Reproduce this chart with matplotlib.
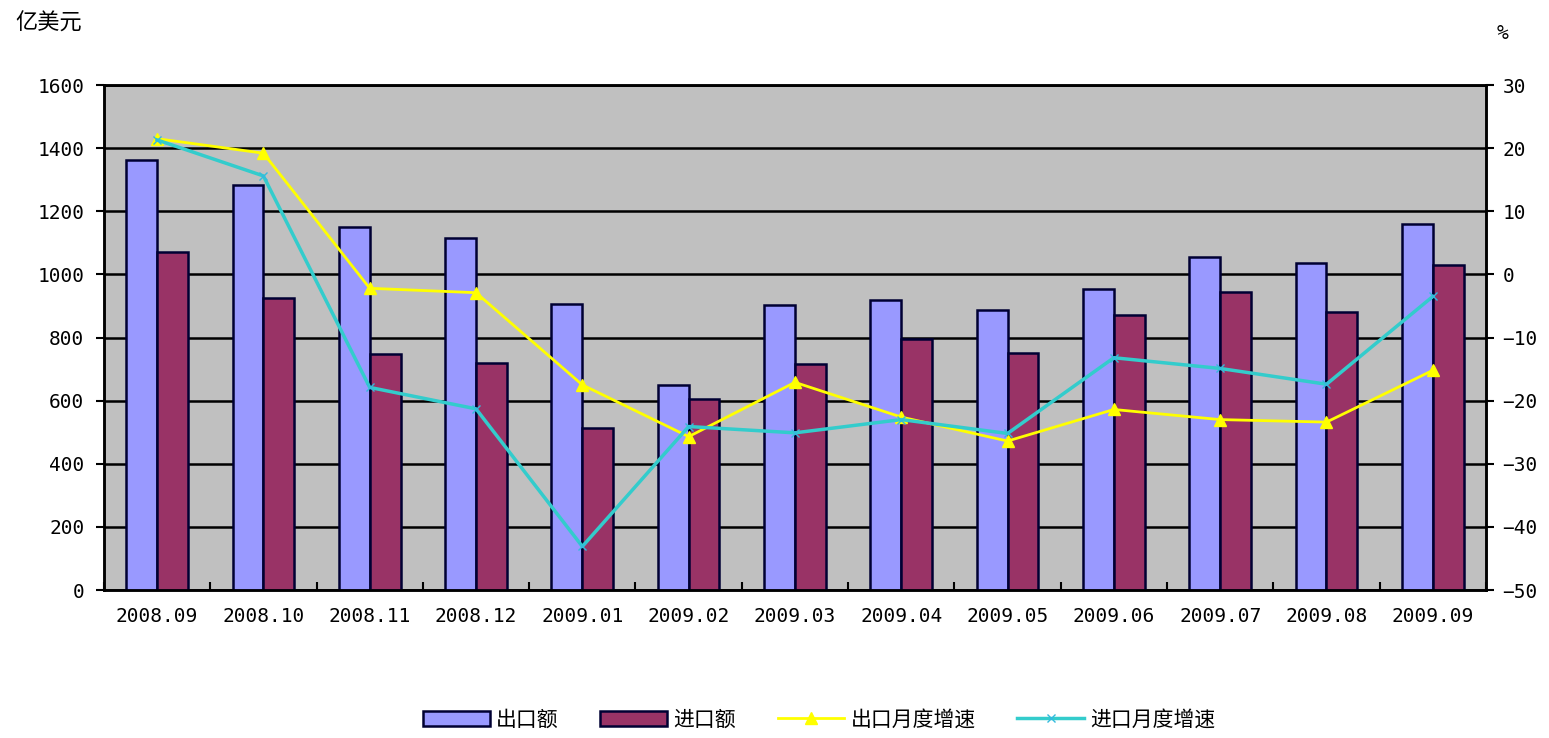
import numpy as np
import matplotlib.pyplot as plt

plt.rcParams['font.family'] = ['Noto Sans CJK SC', 'DejaVu Sans']

months = ["2008.09", "2008.10", "2008.11", "2008.12", "2009.01", "2009.02", "2009.03",
          "2009.04", "2009.05", "2009.06", "2009.07", "2009.08", "2009.09"]
exports = [1364, 1283, 1150, 1116, 905, 649, 903, 919, 888, 954, 1054, 1037, 1160]
imports = [1071, 924, 749, 720, 514, 604, 715, 794, 752, 872, 943, 880, 1030]
export_growth = [21.5, 19.2, -2.2, -2.9, -17.5, -25.7, -17.1, -22.6, -26.4, -21.4, -23.0, -23.4, -15.2]
import_growth = [21.3, 15.6, -17.9, -21.3, -43.1, -24.1, -25.1, -23.0, -25.2, -13.2, -14.9, -17.4, -3.5]

x = np.arange(len(months))
w = 0.29
mono = "DejaVu Sans Mono"

fig = plt.figure(figsize=(15.49, 7.38), dpi=100)
ax = fig.add_axes([0.0671, 0.2005, 0.8922, 0.6843])
ax.set_facecolor("#C0C0C0")

b1 = ax.bar(x - w / 2, exports, w, color="#9999FF", edgecolor="#000033", linewidth=1.8, label="出口额", zorder=3)
b2 = ax.bar(x + w / 2, imports, w, color="#993366", edgecolor="#000033", linewidth=1.8, label="进口额", zorder=3)

ax.set_ylim(0, 1600)
ax.set_xlim(-0.5, len(months) - 0.5)
ax.set_yticks(range(0, 1601, 200))
ax.grid(axis="y", color="black", linewidth=1.8, zorder=1)
ax.set_xticks(x)
ax.set_xticklabels(months, fontsize=14, family=mono)
ax.tick_params(axis="x", length=0, pad=12)
ax.set_xticks(np.arange(-0.5, len(months), 1), minor=True)
ax.tick_params(axis="x", which="minor", direction="in", length=6, width=1.5)
ax.tick_params(axis="y", labelsize=14, direction="out", length=6, width=1.5, pad=8)
for lab in ax.get_yticklabels():
    lab.set_family(mono)
for s in ax.spines.values():
    s.set_linewidth(1.8)

ax2 = ax.twinx()
l1, = ax2.plot(x, export_growth, color="#FFFF00", linewidth=2, marker="^", markersize=9,
               markeredgecolor="#FFFF00", label="出口月度增速", zorder=4)
l2, = ax2.plot(x, import_growth, color="#33CCCC", linewidth=2.5, marker="x", markersize=6,
               markeredgecolor="#33BBDD", label="进口月度增速", zorder=4)
ax2.set_ylim(-50, 30)
ax2.set_yticks(range(-50, 31, 10))
ax2.tick_params(axis="y", labelsize=14, direction="out", length=6, width=1.5, pad=6)
for lab in ax2.get_yticklabels():
    lab.set_family(mono)
for s in ax2.spines.values():
    s.set_linewidth(1.8)

fig.text(0.01, 0.968, "亿美元", fontsize=16, ha="left", va="center")
fig.text(0.966, 0.955, "%", fontsize=14, ha="left", va="center", family=mono)

fig.legend(handles=[b1, b2, l1, l2], loc="center", bbox_to_anchor=(0.529, 0.025), ncol=4,
           frameon=False, fontsize=15, handlelength=3.2, columnspacing=2.0, handletextpad=0.3)

fig.savefig("out.png", dpi=100)
